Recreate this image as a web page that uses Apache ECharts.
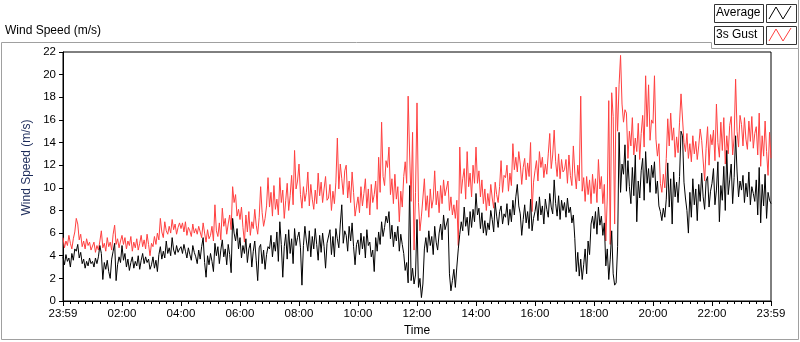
<!DOCTYPE html>
<html>
<head>
<meta charset="utf-8">
<script src="https://cdn.jsdelivr.net/npm/echarts@6/dist/echarts.min.js"></script>
<style>
html, body { margin: 0; padding: 0; background: #fff; }
#chart { width: 800px; height: 342px; }
</style>
</head>
<body>
<div id="chart"></div>
<script>
// one sample every 3 minutes, first sample at 23:59
var STEP = 3

// 3s gust (m/s), one row per hour
var gust = [
  5.6, 4.7, 5.3, 4.9, 5.8, 5.1, 4.6, 5.5, 6.1, 7.3, 6.8, 5.4, 5.9, 4.8, 5.3, 4.6, 5.5, 4.9, 5.2, 4.5,
  4.6, 5.2, 4.3, 4.9, 4.5, 5.3, 6.2, 4.7, 5.1, 4.4, 5.6, 4.8, 5.2, 4.5, 5.9, 6.7, 5.0, 5.5, 4.7, 5.3,
  5.8, 5.0, 5.6, 4.6, 5.3, 4.9, 5.7, 4.4, 5.2, 4.7, 5.5, 4.5, 5.1, 5.8, 4.8, 5.4, 4.6, 5.9, 5.0, 4.0,
  5.1, 4.8, 5.7, 5.0, 6.0, 5.4, 7.3, 6.1, 5.6, 7.0, 6.2, 5.9, 6.6, 6.0, 7.2, 6.3, 6.8, 5.9, 6.5, 6.9,
  6.4, 6.9, 6.1, 7.0, 5.8, 6.5, 6.2, 5.7, 6.8, 6.0, 6.4, 5.9, 6.6, 6.1, 5.6, 6.9, 6.0, 5.2, 6.3, 5.5,
  5.8, 6.6, 5.3, 8.5, 6.2, 5.7, 6.9, 5.4, 8.2, 6.6, 7.3, 5.9, 6.8, 7.6, 6.3, 10.1, 8.7, 9.4, 7.5, 8.1,
  7.2, 8.3, 6.5, 5.2, 7.6, 6.1, 7.9, 5.8, 7.0, 6.4, 8.1, 6.7, 5.9, 7.4, 10.1, 7.8, 6.6, 7.3, 8.4, 10.9,
  8.3, 9.6, 7.5, 10.2, 8.1, 9.0, 7.6, 10.9, 8.7, 9.8, 7.3, 8.9, 10.4, 8.0, 9.3, 11.1, 8.5, 13.3, 9.9, 10.6,
  12.1, 9.4, 8.2, 10.1, 8.8, 9.6, 11.4, 8.4, 10.3, 9.0, 8.1, 9.8, 8.6, 11.3, 9.3, 10.5, 8.7, 9.9, 11.0, 8.9,
  9.1, 10.3, 8.0, 9.7, 8.6, 10.5, 14.4, 9.9, 12.1, 10.8, 9.4, 11.5, 12.0, 9.1, 10.6, 8.7, 11.4, 9.6, 7.5, 8.4,
  9.2, 7.8, 10.1, 8.4, 9.5, 10.8, 8.2, 9.9, 7.6, 10.3, 8.7, 9.4, 10.6, 8.1, 12.7, 9.6, 15.8, 11.0, 10.2, 12.4,
  11.8, 13.6, 9.4, 10.8, 8.6, 11.2, 9.0, 10.1, 7.0, 9.7, 8.3, 11.0, 12.3, 10.4, 18.1, 12.9, 8.8, 14.9, 4.5, 9.6,
  17.5, 8.7, 6.2, 7.5, 9.1, 10.8, 8.0, 9.3, 7.4, 9.9, 8.2, 9.0, 11.5, 8.5, 9.7, 7.8, 10.2, 8.6, 10.7, 9.3,
  9.4, 10.6, 8.0, 9.2, 7.6, 8.5, 7.3, 8.9, 4.9, 13.6, 9.5, 10.8, 11.7, 9.0, 13.2, 10.1, 11.3, 9.2, 12.0, 10.4,
  13.6, 10.4, 11.5, 9.2, 10.7, 8.6, 9.9, 8.0, 9.5, 8.4, 10.3, 9.1, 8.2, 10.5, 9.4, 8.7, 10.1, 12.4, 9.6, 11.1,
  10.9, 12.0, 9.7, 11.3, 10.2, 13.9, 11.6, 12.7, 11.4, 13.2, 12.1, 10.3, 11.8, 12.6, 10.7, 12.2, 11.0, 14.0, 7.9, 10.5,
  11.5, 12.4, 10.6, 13.2, 11.8, 12.7, 10.9, 12.1, 11.2, 13.0, 14.8, 11.7, 12.9, 15.1, 12.3, 11.0, 13.0, 10.8, 12.5, 11.4,
  11.6, 12.5, 10.4, 12.9, 11.1, 10.2, 13.7, 11.3, 9.9, 12.0, 10.6, 18.1, 9.7, 10.9, 8.8, 11.0, 9.4, 10.7, 8.6, 11.2,
  9.5, 10.8, 8.7, 12.5, 9.9, 11.0, 8.6, 10.3, 5.3, 9.1, 17.7, 5.0, 18.4, 16.3, 6.8, 18.9, 15.0, 19.1, 21.7, 17.4,
  15.8, 16.9, 16.6, 12.6, 15.0, 13.7, 16.2, 12.9, 14.4, 13.2, 15.7, 12.5, 14.8, 16.4, 13.6, 19.9, 15.4, 19.1, 14.2, 16.0,
  15.7, 19.9, 14.3, 12.8, 13.9, 10.4, 9.6, 11.2, 10.0, 12.6, 16.1, 13.7, 16.6, 14.2, 15.3, 12.7, 14.5, 13.1, 15.8, 18.3,
  18.2, 14.0, 13.2, 14.8, 12.6, 13.9, 12.3, 14.6, 13.0, 14.1, 12.5, 13.7, 15.2, 14.2, 14.3, 10.6, 13.5, 15.4, 12.0, 14.7,
  13.8, 15.1, 12.4, 17.4, 14.0, 12.7, 15.8, 13.3, 16.2, 12.1, 14.6, 13.0, 15.5, 16.3, 12.9, 14.4, 19.6, 15.0, 13.6, 16.4,
  15.6, 13.7, 16.2, 14.3, 13.4, 15.9, 14.1, 16.3, 13.5, 14.8, 15.4, 12.9, 16.6, 11.9, 14.6, 12.8, 15.9, 13.2, 11.1, 14.9, 12.6
]

// average (m/s)
var average = [
  3.9, 3.2, 4.1, 3.5, 3.8, 3.0, 4.2, 3.6, 4.6, 4.4, 5.0, 3.8, 4.3, 3.3, 3.7, 2.9, 3.5, 3.1, 3.8, 3.3,
  3.5, 3.0, 3.8, 3.3, 3.9, 4.9, 4.2, 1.9, 3.4, 2.8, 3.6, 2.6, 2.0, 3.7, 4.4, 5.1, 1.8, 3.2, 3.9, 3.4,
  4.9, 3.6, 4.2, 3.0, 3.7, 2.7, 3.4, 3.9, 2.9, 3.5, 3.1, 4.0, 2.8, 3.6, 4.2, 3.3, 3.9, 3.4, 3.7, 2.8,
  3.2, 3.9, 2.9, 3.6, 2.6, 4.1, 4.8, 3.7, 4.4, 3.8, 5.3, 4.2, 4.7, 4.0, 5.6, 4.5, 4.1, 4.9, 4.3, 4.6,
  4.8, 4.2, 5.0, 4.4, 3.8, 4.7, 4.1, 3.6, 4.9, 4.3, 3.9, 3.3, 4.5, 3.7, 4.8, 5.6, 3.4, 2.1, 4.0, 3.2,
  4.2, 3.5, 2.6, 5.1, 4.0, 4.8, 3.3, 4.5, 5.4, 3.9, 4.6, 3.2, 5.0, 4.1, 2.5, 7.3, 6.0, 5.3, 6.4, 4.6,
  5.6, 3.8, 4.9, 4.2, 5.5, 3.4, 4.6, 5.1, 3.0, 4.4, 5.3, 3.6, 1.8, 4.7, 5.0, 3.3, 4.5, 2.8, 4.1, 4.8,
  4.6, 5.8, 3.9, 5.2, 4.4, 6.1, 3.5, 7.0, 5.0, 2.1, 4.8, 5.9, 3.7, 6.3, 4.2, 5.5, 3.3, 6.4, 4.9, 5.6,
  6.1, 4.7, 1.4, 4.9, 6.6, 5.3, 4.4, 6.2, 3.9, 5.7, 4.6, 6.4, 5.0, 3.6, 5.8, 4.3, 6.0, 4.8, 2.9, 5.1,
  5.2, 6.3, 4.1, 5.7, 3.9, 6.4, 5.5, 4.7, 6.8, 8.5, 5.1, 6.2, 5.8, 4.4, 6.6, 5.3, 6.9, 4.8, 3.2, 5.0,
  5.4, 4.1, 6.0, 4.6, 5.7, 3.8, 6.3, 4.9, 5.2, 3.9, 4.5, 2.6, 5.6, 4.4, 6.1, 5.0, 7.0, 5.7, 6.5, 7.5,
  6.9, 7.9, 5.5, 6.7, 4.8, 6.1, 5.3, 6.6, 4.4, 5.9, 5.0, 4.2, 2.7, 3.4, 1.6, 10.2, 1.8, 2.9, 1.5, 2.3,
  7.2, 1.2, 2.0, 0.3, 1.5, 4.6, 5.6, 4.3, 6.2, 4.9, 5.7, 4.1, 6.6, 5.2, 4.5, 6.0, 6.8, 5.4, 7.6, 6.3,
  6.4, 7.3, 2.4, 0.9, 1.8, 2.8, 1.2, 3.0, 4.6, 5.9, 7.0, 6.2, 8.3, 6.6, 7.4, 5.8, 7.9, 6.5, 8.1, 7.0,
  9.5, 7.6, 8.2, 6.4, 7.8, 6.0, 7.1, 5.8, 6.9, 6.3, 8.0, 7.2, 6.1, 8.7, 7.5, 6.5, 7.9, 8.4, 6.8, 7.7,
  7.4, 8.6, 6.7, 8.1, 7.0, 8.9, 7.6, 9.2, 10.3, 8.4, 7.7, 5.8, 7.2, 8.5, 6.9, 7.9, 6.4, 9.0, 6.2, 7.3,
  7.9, 8.8, 7.1, 9.2, 7.6, 8.4, 6.8, 9.0, 8.1, 7.4, 9.5, 8.3, 7.7, 10.7, 8.6, 7.5, 9.3, 7.2, 8.9, 8.0,
  8.7, 7.4, 9.1, 7.8, 8.3, 6.9, 7.6, 5.5, 2.6, 4.3, 2.2, 3.7, 1.9, 3.2, 4.6, 2.4, 5.3, 4.1, 6.8, 7.5,
  6.4, 7.9, 5.9, 8.3, 6.7, 7.5, 5.8, 6.9, 3.1, 4.6, 1.9, 3.7, 6.2, 2.4, 1.4, 1.6, 4.8, 14.9, 9.6, 12.1,
  11.2, 13.8, 9.7, 12.4, 10.1, 8.6, 11.8, 9.3, 12.9, 7.0, 10.6, 9.1, 11.5, 12.6, 8.9, 13.2, 10.4, 11.7, 9.6, 12.0,
  10.9, 12.3, 9.5, 10.6, 8.4, 7.9, 7.1, 8.2, 7.4, 9.0, 12.2, 8.3, 10.8, 6.8, 11.4, 9.2, 10.5, 8.7, 11.0, 15.0,
  14.6, 10.5, 9.1, 8.0, 6.0, 9.6, 7.4, 10.8, 8.5, 9.9, 7.1, 10.3, 8.8, 11.3, 9.2, 8.1, 10.6, 11.0, 8.3, 9.7,
  10.4, 11.7, 8.5, 9.8, 12.3, 7.0, 10.2, 8.9, 11.9, 8.0, 13.3, 9.4, 10.7, 12.1, 8.6, 10.9, 14.6, 11.4, 9.2, 10.6,
  9.8, 11.1, 8.7, 10.4, 9.2, 11.4, 8.5, 10.1, 9.5, 8.8, 10.7, 7.6, 11.8, 6.9, 10.3, 8.4, 11.2, 7.3, 9.6, 8.9, 8.6
]

// labels for the major ticks, every 120 minutes
var timeLabels = ['23:59', '02:00', '04:00', '06:00', '08:00', '10:00', '12:00',
  '14:00', '16:00', '18:00', '20:00', '22:00', '23:59']

var FONT = 'Liberation Sans'

function toPoints(vals) {
  return vals.map(function(v, i) { return [i * STEP, v] })
}

var myChart = echarts.init(document.getElementById('chart'))

var option = {
  animation: false,
  backgroundColor: '#fff',
  textStyle: { fontFamily: FONT },
  grid: {
    left: 63,
    right: 29,
    top: 52,
    bottom: 39,
    show: true,
    borderColor: '#000',
    borderWidth: 1,
    backgroundColor: '#fff'
  },
  xAxis: {
    type: 'value',
    min: 0,
    max: 1440,
    interval: 120,
    name: 'Time',
    nameLocation: 'middle',
    nameGap: 24,
    nameTextStyle: { color: '#000', fontSize: 12, fontFamily: FONT },
    axisLine: { lineStyle: { color: '#000' } },
    axisTick: { length: 5, lineStyle: { color: '#000' } },
    minorTick: { show: true, splitNumber: 8, length: 3, lineStyle: { color: '#000' } },
    splitLine: { show: false },
    axisLabel: {
      color: '#000',
      fontSize: 11.5,
      margin: 7,
      formatter: function(v) { return timeLabels[Math.round(v / 120)] }
    }
  },
  yAxis: {
    type: 'value',
    min: 0,
    max: 22,
    interval: 2,
    name: 'Wind Speed (m/s)',
    nameLocation: 'middle',
    nameGap: 27,
    nameTextStyle: { color: '#1c2b5a', fontSize: 12, fontFamily: FONT, padding: [0, 0, 0, 18] },
    axisLine: { show: true, lineStyle: { color: '#000' } },
    axisTick: { show: true, length: 4, lineStyle: { color: '#000' } },
    splitLine: { show: false },
    axisLabel: { color: '#000', fontSize: 11.5, margin: 7 }
  },
  series: [
    {
      name: '3s Gust',
      type: 'line',
      data: toPoints(gust),
      showSymbol: false,
      sampling: 'none',
      lineStyle: { color: '#ff4040', width: 1 },
      itemStyle: { color: '#ff4040' }
    },
    {
      name: 'Average',
      type: 'line',
      data: toPoints(average),
      showSymbol: false,
      sampling: 'none',
      lineStyle: { color: '#000', width: 1 },
      itemStyle: { color: '#000' }
    }
  ],
  graphic: [
    // outer panel frame
    { type: 'polyline', silent: true, shape: { points: [[711.5, 42.5], [1.5, 42.5], [1.5, 339.5], [798.5, 339.5], [798.5, 48.5]] },
      style: { stroke: '#a0a0a0', fill: null, lineWidth: 1 } },
    { type: 'polyline', silent: true, shape: { points: [[711.5, 42.5], [711.5, 48.5], [798.5, 48.5], [798.5, 0]] },
      style: { stroke: '#a0a0a0', fill: null, lineWidth: 1 } },
    { type: 'text', left: 5, top: 25, style: { text: 'Wind Speed (m/s)', fill: '#000', font: '12px ' + FONT } },
    // legend: Average
    { type: 'rect', silent: true, shape: { x: 714.5, y: 4.5, width: 49, height: 18 }, style: { stroke: '#333', fill: '#fff' } },
    { type: 'text', left: 716, top: 7, style: { text: 'Average', fill: '#000', font: '12px ' + FONT } },
    { type: 'rect', silent: true, shape: { x: 766.5, y: 4.5, width: 30, height: 18 }, style: { stroke: '#333', fill: '#fff' } },
    { type: 'polyline', silent: true, shape: { points: [[769, 19], [776, 7], [783, 19], [791, 6]] }, style: { stroke: '#000', fill: null, lineWidth: 1 } },
    // legend: 3s Gust
    { type: 'rect', silent: true, shape: { x: 714.5, y: 26.5, width: 49, height: 18 }, style: { stroke: '#333', fill: '#fff' } },
    { type: 'text', left: 716, top: 29, style: { text: '3s Gust', fill: '#000', font: '12px ' + FONT } },
    { type: 'rect', silent: true, shape: { x: 766.5, y: 26.5, width: 30, height: 18 }, style: { stroke: '#333', fill: '#fff' } },
    { type: 'polyline', silent: true, shape: { points: [[769, 41], [776, 29], [783, 41], [791, 28]] }, style: { stroke: '#ff4040', fill: null, lineWidth: 1 } }
  ]
}

myChart.setOption(option)
window.onresize = function() { myChart.resize() }
</script>
</body>
</html>
